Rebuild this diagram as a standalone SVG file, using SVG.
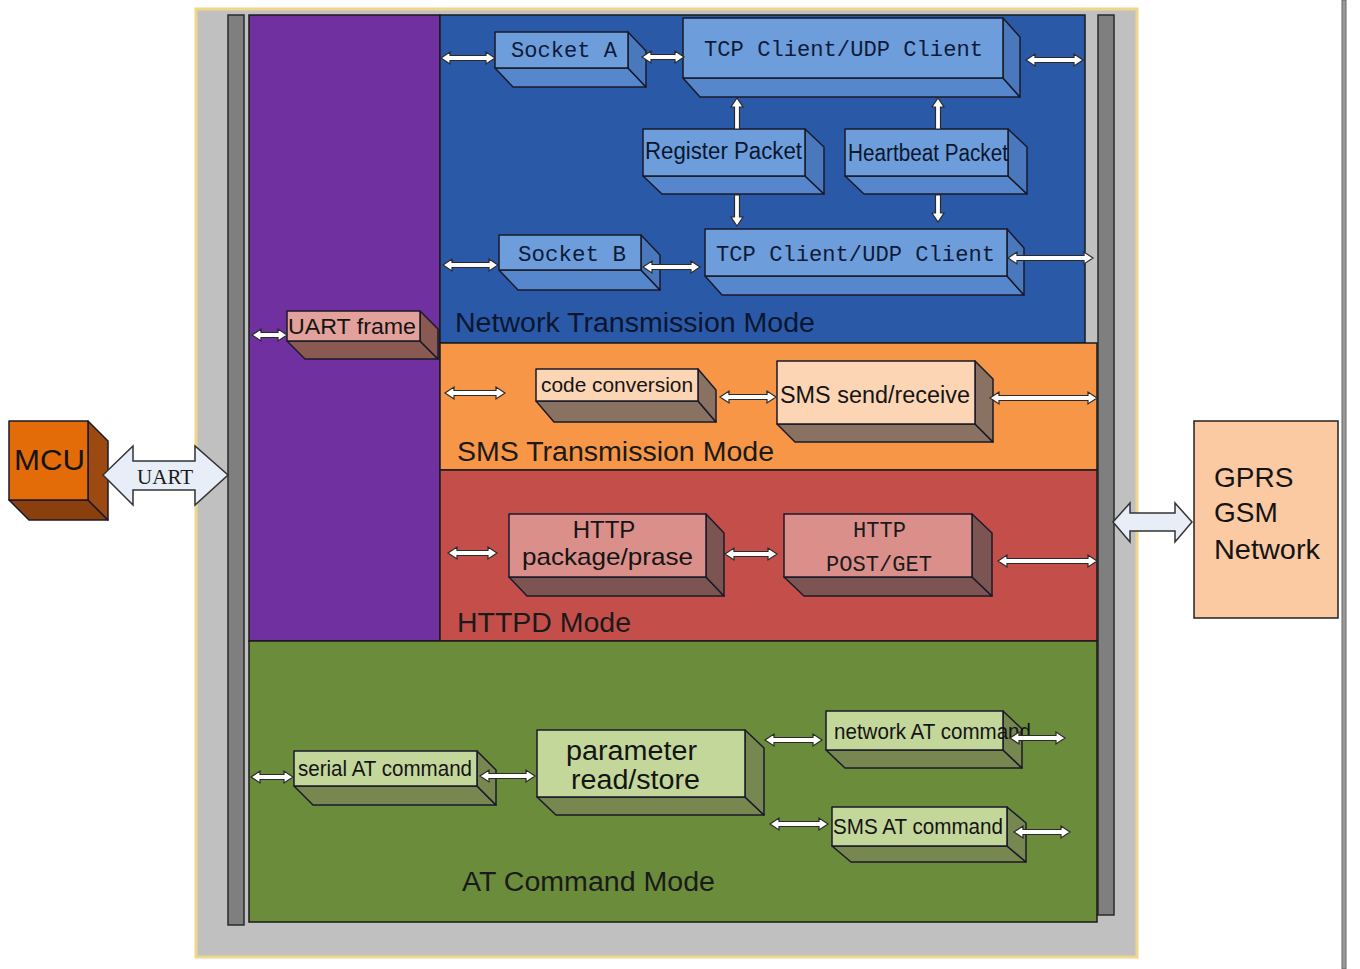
<svg xmlns="http://www.w3.org/2000/svg" width="1360" height="969" viewBox="0 0 1360 969">
<style>
.sec{stroke:#1a1a1a;stroke-width:1.5}
.bx{stroke:#1a1a2a;stroke-width:1.5;stroke-linejoin:round}
.ar{fill:#ffffff;stroke:#2a2a2a;stroke-width:1.2;stroke-linejoin:miter}
.big{fill:#e8eef8;stroke:#333;stroke-width:1.5}
.sans{font-family:"Liberation Sans",Arial,sans-serif;fill:#141414}
.mono{font-family:"Liberation Mono","DejaVu Sans Mono",monospace;fill:#0e1a3a}
.lbl{font-family:"Liberation Sans",Arial,sans-serif;font-size:27px;fill:#1a1a1a}
.bf{fill:#6d9edb}.bs{fill:#4a78bd}.bb{fill:#5686cc}
.of{fill:#fcd5b4}.os{fill:#8a7262}
.rf{fill:#da8f8b}.rs{fill:#7c5552}
.gf{fill:#c4d79b}.gs{fill:#76874f}
</style>
<rect width="1360" height="969" fill="#ffffff"/>
<rect x="1342" y="0" width="4" height="969" fill="#9a9a9a" stroke="#666" stroke-width="1"/>
<!-- outer frame -->
<rect x="196" y="9" width="941" height="948" fill="#c0c0c0" stroke="#f0d68c" stroke-width="3"/>
<rect x="228" y="15" width="16" height="910" fill="#7f7f7f" stroke="#2a2a2a" stroke-width="1.5"/>
<rect x="1098" y="15" width="16" height="900" fill="#7f7f7f" stroke="#2a2a2a" stroke-width="1.5"/>
<!-- sections -->
<g id="sections">
<rect class="sec" x="249" y="15" width="191" height="626" fill="#7030a0"/>
<rect class="sec" x="440" y="15" width="645" height="328" fill="#2a5aa7"/>
<rect class="sec" x="440" y="343" width="657" height="127" fill="#f79646"/>
<rect class="sec" x="440" y="470" width="657" height="171" fill="#c44f4a"/>
<rect class="sec" x="249" y="641" width="848" height="281" fill="#6b8c3a"/>
<text class="lbl" x="455" y="332" textLength="360" lengthAdjust="spacingAndGlyphs" fill="#0a1630" style="fill:#0a1630">Network Transmission Mode</text>
<text class="lbl" x="457" y="461" textLength="317" lengthAdjust="spacingAndGlyphs">SMS Transmission Mode</text>
<text class="lbl" x="457" y="632" textLength="174" lengthAdjust="spacingAndGlyphs">HTTPD Mode</text>
<text class="lbl" x="462" y="891" textLength="253" lengthAdjust="spacingAndGlyphs">AT Command Mode</text>
</g>
<!-- MCU -->
<g id="mcu">
<polygon class="bx" points="9,500 88,500 108,520 29,520" fill="#8a3f0c"/>
<polygon class="bx" points="88,421 108,441 108,520 88,500" fill="#9c4a12"/>
<rect class="bx" x="9" y="421" width="79" height="79" fill="#e36c09"/>
<text class="sans" x="14" y="470" font-size="30" textLength="71" lengthAdjust="spacingAndGlyphs">MCU</text>
</g>
<!-- GPRS -->
<g id="gprs">
<rect x="1194" y="421" width="144" height="197" fill="#fbc9a2" stroke="#222" stroke-width="1.5"/>
<text class="sans" x="1214" y="487" font-size="28">GPRS</text>
<text class="sans" x="1214" y="522" font-size="28">GSM</text>
<text class="sans" x="1214" y="559" font-size="28" textLength="106" lengthAdjust="spacingAndGlyphs">Network</text>
</g>
<!-- network boxes -->
<g id="socketA">
<polygon class="bx bb" points="495,68 628,68 646,87 513,87"/>
<polygon class="bx bs" points="628,32 646,51 646,87 628,68"/>
<rect class="bx bf" x="495" y="32" width="133" height="36"/>
<text class="mono" x="511" y="57" font-size="22" textLength="106" lengthAdjust="spacingAndGlyphs">Socket A</text>
</g>
<g id="tcpA">
<polygon class="bx bb" points="683,78 1003,78 1020,97 700,97"/>
<polygon class="bx bs" points="1003,18 1020,37 1020,97 1003,78"/>
<rect class="bx bf" x="683" y="18" width="320" height="60"/>
<text class="mono" x="704" y="56" font-size="22" textLength="279" lengthAdjust="spacingAndGlyphs">TCP Client/UDP Client</text>
</g>
<g id="register">
<polygon class="bx bb" points="643,176 805,176 824,194 662,194"/>
<polygon class="bx bs" points="805,129 824,147 824,194 805,176"/>
<rect class="bx bf" x="643" y="129" width="162" height="47"/>
<text class="sans" x="645" y="159" font-size="23" textLength="157" lengthAdjust="spacingAndGlyphs" style="fill:#0a1630">Register Packet</text>
</g>
<g id="heartbeat">
<polygon class="bx bb" points="845,176 1008,176 1027,194 864,194"/>
<polygon class="bx bs" points="1008,129 1027,147 1027,194 1008,176"/>
<rect class="bx bf" x="845" y="129" width="163" height="47"/>
<text class="sans" x="848" y="161" font-size="23" textLength="160" lengthAdjust="spacingAndGlyphs" style="fill:#0a1630">Heartbeat Packet</text>
</g>
<g id="socketB">
<polygon class="bx bb" points="499,270 641,270 660,290 518,290"/>
<polygon class="bx bs" points="641,235 660,255 660,290 641,270"/>
<rect class="bx bf" x="499" y="235" width="142" height="35"/>
<text class="mono" x="518" y="261" font-size="22" textLength="108" lengthAdjust="spacingAndGlyphs">Socket B</text>
</g>
<g id="tcpB">
<polygon class="bx bb" points="705,276 1007,276 1024,295 722,295"/>
<polygon class="bx bs" points="1007,229 1024,248 1024,295 1007,276"/>
<rect class="bx bf" x="705" y="229" width="302" height="47"/>
<text class="mono" x="716" y="261" font-size="22" textLength="279" lengthAdjust="spacingAndGlyphs">TCP Client/UDP Client</text>
</g>
<g id="uartFrame">
<polygon class="bx" points="287,341 420,341 438,359 305,359" fill="#8a5a52"/>
<polygon class="bx" points="420,311 438,329 438,359 420,341" fill="#8a5a52"/>
<rect class="bx" x="287" y="311" width="133" height="30" fill="#e3a19b"/>
<text class="sans" x="288" y="334" font-size="22" textLength="128" lengthAdjust="spacingAndGlyphs">UART frame</text>
</g>
<!-- SMS boxes -->
<g id="codeConv">
<polygon class="bx os" points="536,401 698,401 716,422 554,422"/>
<polygon class="bx os" points="698,369 716,390 716,422 698,401"/>
<rect class="bx of" x="536" y="369" width="162" height="32"/>
<text class="sans" x="541" y="392" font-size="20" textLength="152" lengthAdjust="spacingAndGlyphs">code conversion</text>
</g>
<g id="smsSR">
<polygon class="bx os" points="777,424 975,424 993,442 795,442"/>
<polygon class="bx os" points="975,361 993,379 993,442 975,424"/>
<rect class="bx of" x="777" y="361" width="198" height="63"/>
<text class="sans" x="780" y="403" font-size="23" textLength="190" lengthAdjust="spacingAndGlyphs">SMS send/receive</text>
</g>
<!-- HTTP boxes -->
<g id="httpPkg">
<polygon class="bx rs" points="509,577 706,577 724,596 527,596"/>
<polygon class="bx rs" points="706,514 724,533 724,596 706,577"/>
<rect class="bx rf" x="509" y="514" width="197" height="63"/>
<text class="sans" x="604" y="538" font-size="24" text-anchor="middle">HTTP</text>
<text class="sans" x="522" y="565" font-size="24" textLength="171" lengthAdjust="spacingAndGlyphs">package/prase</text>
</g>
<g id="httpPost">
<polygon class="bx rs" points="784,577 972,577 992,596 804,596"/>
<polygon class="bx rs" points="972,514 992,533 992,596 972,577"/>
<rect class="bx rf" x="784" y="514" width="188" height="63"/>
<text class="mono" x="853" y="537" font-size="22" textLength="53" lengthAdjust="spacingAndGlyphs" style="fill:#1a1a1a">HTTP</text>
<text class="mono" x="826" y="571" font-size="22" textLength="106" lengthAdjust="spacingAndGlyphs" style="fill:#1a1a1a">POST/GET</text>
</g>
<!-- AT boxes -->
<g id="serialAT">
<polygon class="bx gs" points="294,786 477,786 496,805 313,805"/>
<polygon class="bx gs" points="477,751 496,770 496,805 477,786"/>
<rect class="bx gf" x="294" y="751" width="183" height="35"/>
<text class="sans" x="298" y="776" font-size="22" textLength="174" lengthAdjust="spacingAndGlyphs">serial AT command</text>
</g>
<g id="param">
<polygon class="bx gs" points="537,797 745,797 764,815 556,815"/>
<polygon class="bx gs" points="745,730 764,748 764,815 745,797"/>
<rect class="bx gf" x="537" y="730" width="208" height="67"/>
<text class="sans" x="566" y="760" font-size="27" textLength="131" lengthAdjust="spacingAndGlyphs">parameter</text>
<text class="sans" x="571" y="789" font-size="27" textLength="129" lengthAdjust="spacingAndGlyphs">read/store</text>
</g>
<g id="netAT">
<polygon class="bx gs" points="826,750 1003,750 1022,768 845,768"/>
<polygon class="bx gs" points="1003,711 1022,729 1022,768 1003,750"/>
<rect class="bx gf" x="826" y="711" width="177" height="39"/>
<text class="sans" x="834" y="739" font-size="22" textLength="197" lengthAdjust="spacingAndGlyphs">network AT command</text>
</g>
<g id="smsAT">
<polygon class="bx gs" points="832,846 1007,846 1026,862 851,862"/>
<polygon class="bx gs" points="1007,807 1026,823 1026,862 1007,846"/>
<rect class="bx gf" x="832" y="807" width="175" height="39"/>
<text class="sans" x="833" y="834" font-size="22" textLength="170" lengthAdjust="spacingAndGlyphs">SMS AT command</text>
</g>
<!-- connectors -->
<g id="connectors">
<polygon class="big" points="103,475 133,446 133,461 195,461 195,446 228,475 195,505 195,490 133,490 133,505"/>
<text x="137" y="484" font-family="Liberation Serif,serif" font-size="22" textLength="56" lengthAdjust="spacingAndGlyphs" fill="#1a1a1a">UART</text>
<polygon class="big" points="1113,522 1130,503 1130,513 1175,513 1175,503 1192,522 1175,542 1175,531 1130,531 1130,542"/>
<polygon class="ar" points="441,58 450,52 450,55.5 486,55.5 486,52 495,58 486,64 486,60.5 450,60.5 450,64"/>
<polygon class="ar" points="642,57 651,51 651,54.5 675,54.5 675,51 684,57 675,63 675,59.5 651,59.5 651,63"/>
<polygon class="ar" points="1026,60 1035,54 1035,57.5 1074,57.5 1074,54 1083,60 1074,66 1074,62.5 1035,62.5 1035,66"/>
<polygon class="ar" points="443,265 452,259 452,262.5 489,262.5 489,259 498,265 489,271 489,267.5 452,267.5 452,271"/>
<polygon class="ar" points="643,267 652,261 652,264.5 691,264.5 691,261 700,267 691,273 691,269.5 652,269.5 652,273"/>
<polygon class="ar" points="1008,258 1017,252 1017,255.5 1084,255.5 1084,252 1093,258 1084,264 1084,260.5 1017,260.5 1017,264"/>
<polygon class="ar" points="252,335 261,329 261,332.5 278,332.5 278,329 287,335 278,341 278,337.5 261,337.5 261,341"/>
<polygon class="ar" points="445,393 454,387 454,390.5 496,390.5 496,387 505,393 496,399 496,395.5 454,395.5 454,399"/>
<polygon class="ar" points="720,397 729,391 729,394.5 767,394.5 767,391 776,397 767,403 767,399.5 729,399.5 729,403"/>
<polygon class="ar" points="990,398 999,392 999,395.5 1088,395.5 1088,392 1097,398 1088,404 1088,400.5 999,400.5 999,404"/>
<polygon class="ar" points="448,553 457,547 457,550.5 488,550.5 488,547 497,553 488,559 488,555.5 457,555.5 457,559"/>
<polygon class="ar" points="725,554 734,548 734,551.5 768,551.5 768,548 777,554 768,560 768,556.5 734,556.5 734,560"/>
<polygon class="ar" points="998,561 1007,555 1007,558.5 1088,558.5 1088,555 1097,561 1088,567 1088,563.5 1007,563.5 1007,567"/>
<polygon class="ar" points="251,777 260,771 260,774.5 284,774.5 284,771 293,777 284,783 284,779.5 260,779.5 260,783"/>
<polygon class="ar" points="480,776 489,770 489,773.5 526,773.5 526,770 535,776 526,782 526,778.5 489,778.5 489,782"/>
<polygon class="ar" points="765,740 774,734 774,737.5 813,737.5 813,734 822,740 813,746 813,742.5 774,742.5 774,746"/>
<polygon class="ar" points="1010,738 1019,732 1019,735.5 1056,735.5 1056,732 1065,738 1056,744 1056,740.5 1019,740.5 1019,744"/>
<polygon class="ar" points="770,824 779,818 779,821.5 819,821.5 819,818 828,824 819,830 819,826.5 779,826.5 779,830"/>
<polygon class="ar" points="1014,832 1023,826 1023,829.5 1061,829.5 1061,826 1070,832 1061,838 1061,834.5 1023,834.5 1023,838"/>
<polygon class="ar" points="737,98 743,107 739.5,107 739.5,129 734.5,129 734.5,107 731,107"/>
<polygon class="ar" points="938,98 944,107 940.5,107 940.5,129 935.5,129 935.5,107 932,107"/>
<polygon class="ar" points="737,226 743,217 739.5,217 739.5,195 734.5,195 734.5,217 731,217"/>
<polygon class="ar" points="938,222 944,213 940.5,213 940.5,195 935.5,195 935.5,213 932,213"/>
</g>
</svg>
